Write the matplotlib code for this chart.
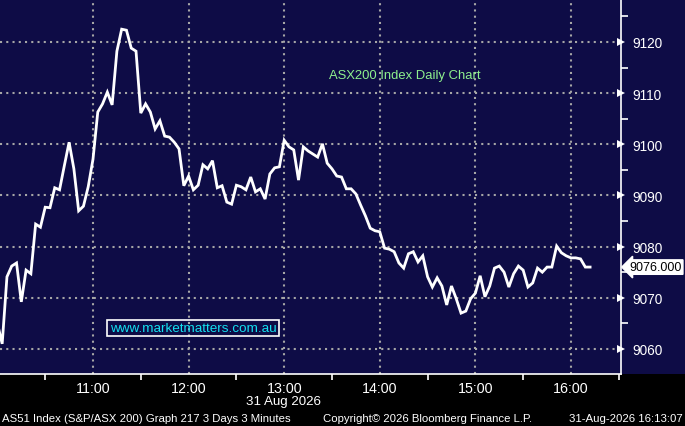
import matplotlib
matplotlib.use('Agg')
import numpy as np
from matplotlib import pyplot as plt
from matplotlib.patches import Rectangle
from matplotlib.ticker import FixedLocator

# 3 minute bars from 10:00 (minutes since 10:00)
start_min = 0
step_min = 3
values = [
    9065.0, 9061.0, 9074.1, 9076.2, 9076.8, 9069.2, 9075.4, 9074.7, 9084.4, 9083.8,
    9087.7, 9087.6, 9091.5, 9091.1, 9095.8, 9100.4, 9095.2, 9087.0, 9087.9, 9091.7,
    9097.1, 9106.3, 9107.9, 9110.2, 9107.7, 9118.2, 9122.5, 9122.3, 9118.8, 9118.2,
    9106.1, 9107.9, 9106.3, 9103.0, 9104.6, 9101.6, 9101.4, 9100.4, 9099.1, 9091.9,
    9093.8, 9091.1, 9092.0, 9096.0, 9095.2, 9096.8, 9091.5, 9091.9, 9088.7, 9088.3,
    9092.0, 9091.7, 9091.1, 9093.6, 9090.7, 9091.3, 9089.3, 9094.2, 9095.4, 9095.6,
    9100.8, 9099.5, 9098.9, 9093.0, 9099.5, 9098.7, 9098.1, 9097.5, 9100.1, 9096.3,
    9095.2, 9093.8, 9093.6, 9091.3, 9091.3, 9090.3, 9088.1, 9086.0, 9083.6, 9083.1,
    9082.9, 9079.7, 9079.5, 9079.0, 9076.8, 9075.8, 9078.6, 9079.0, 9077.0, 9078.2,
    9074.1, 9072.1, 9073.9, 9072.3, 9068.6, 9072.3, 9069.8, 9067.0, 9067.4, 9069.8,
    9070.9, 9074.3, 9070.2, 9072.3, 9075.8, 9076.2, 9075.0, 9072.1, 9074.7, 9076.2,
    9075.4, 9072.1, 9072.9, 9075.8, 9075.0, 9076.0, 9076.0, 9080.1, 9078.8, 9078.2,
    9077.8, 9077.8, 9077.6, 9076.0, 9076.0,
]
last_value = 9076.0

hour_ticks = [60, 120, 180, 240, 300, 360]
hour_labels = ['11:00', '12:00', '13:00', '14:00', '15:00', '16:00']
half_ticks = [30, 90, 150, 210, 270, 330, 390]
price_ticks = [9060, 9070, 9080, 9090, 9100, 9110, 9120]
price_minor = [9065, 9075, 9085, 9095, 9105, 9115, 9125]

title = 'ASX200 Index Daily Chart'
site = 'www.marketmatters.com.au'
date_label = '31 Aug 2026'
footer_left = 'AS51 Index (S&P/ASX 200) Graph 217 3 Days 3 Minutes'
footer_mid = 'Copyright\u00a9 2026 Bloomberg Finance L.P.'
footer_right = '31-Aug-2026 16:13:07'

navy = '#0e0c46'
plt.rcParams['font.family'] = ['Liberation Sans', 'DejaVu Sans']

times = start_min + step_min * np.arange(len(values))

fig = plt.figure(figsize=(6.85, 4.27), dpi=100, facecolor='black')
ax_b = 52 / 427
ax_w = 621 / 685
# navy strip behind the price labels
fig.add_artist(Rectangle((ax_w, ax_b), 1 - ax_w, 1 - ax_b, transform=fig.transFigure,
                         facecolor=navy, edgecolor='none', zorder=-5))
ax = fig.add_axes([0.0, ax_b, ax_w, 1 - ax_b])
ax.set_facecolor(navy)

ax.plot(times, values, color='white', lw=2, solid_joinstyle='miter', zorder=3)

ax.set_xlim(1.63, 391.4)
ax.set_ylim(9055.1, 9128.4)

for s in ['top', 'left']:
    ax.spines[s].set_visible(False)
for s in ['right', 'bottom']:
    ax.spines[s].set_color('white')
    ax.spines[s].set_linewidth(1.2)

ax.yaxis.tick_right()
ax.set_yticks(price_ticks)
ax.yaxis.set_minor_locator(FixedLocator(price_minor))
ax.tick_params(axis='y', which='major', length=0, pad=8, labelcolor='white', labelsize=9.8)
ax.tick_params(axis='y', which='minor', length=5, width=1.2, color='white', direction='out')
# little arrow heads on the major price ticks
ax.plot([1.0] * len(price_ticks), price_ticks, marker='>', ls='none', ms=6, color='white',
        transform=ax.get_yaxis_transform(), clip_on=False, markeredgewidth=0, zorder=5)

ax.set_xticks(hour_ticks)
ax.set_xticklabels(hour_labels)
ax.xaxis.set_minor_locator(FixedLocator(half_ticks))
ax.tick_params(axis='x', which='major', length=0, pad=5, labelcolor='white', labelsize=10.3)
ax.tick_params(axis='x', which='minor', length=4, width=1.2, color='white', direction='out')

ax.grid(True, which='major', color='#a6a6a6', ls=(0, (1, 2)), lw=1.5)
ax.set_axisbelow(True)

ax.text(405 / 621, 1 - 76 / 375, title, transform=ax.transAxes, ha='center', va='center',
        color='#8ef08e', fontsize=9.4)
ax.text(193 / 621, 1 - 329 / 375, site, transform=ax.transAxes, ha='center', va='center',
        color='#13e0f0', fontsize=9.7,
        bbox=dict(boxstyle='square,pad=0.18', facecolor='none', edgecolor='white', lw=1.2))

ax.annotate(f'{last_value:.3f}', xy=(1.0, last_value), xycoords=ax.get_yaxis_transform(),
            xytext=(6, 0), textcoords='offset points', ha='left', va='center',
            color='black', fontsize=9, annotation_clip=False,
            bbox=dict(boxstyle='larrow,pad=0.1', facecolor='white', edgecolor='white'))

fig.text(284 / 685, 1 - 402 / 427, date_label, ha='center', va='center',
         color='white', fontsize=9.6)
fig.text(2 / 685, 1 - 419 / 427, footer_left, ha='left', va='center', color='white',
         fontsize=8.2)
fig.text(428 / 685, 1 - 419 / 427, footer_mid, ha='center', va='center', color='white',
         fontsize=8.2)
fig.text(683 / 685, 1 - 419 / 427, footer_right, ha='right', va='center', color='white',
         fontsize=8.2)

fig.savefig('out.png', dpi=100, facecolor='black')
